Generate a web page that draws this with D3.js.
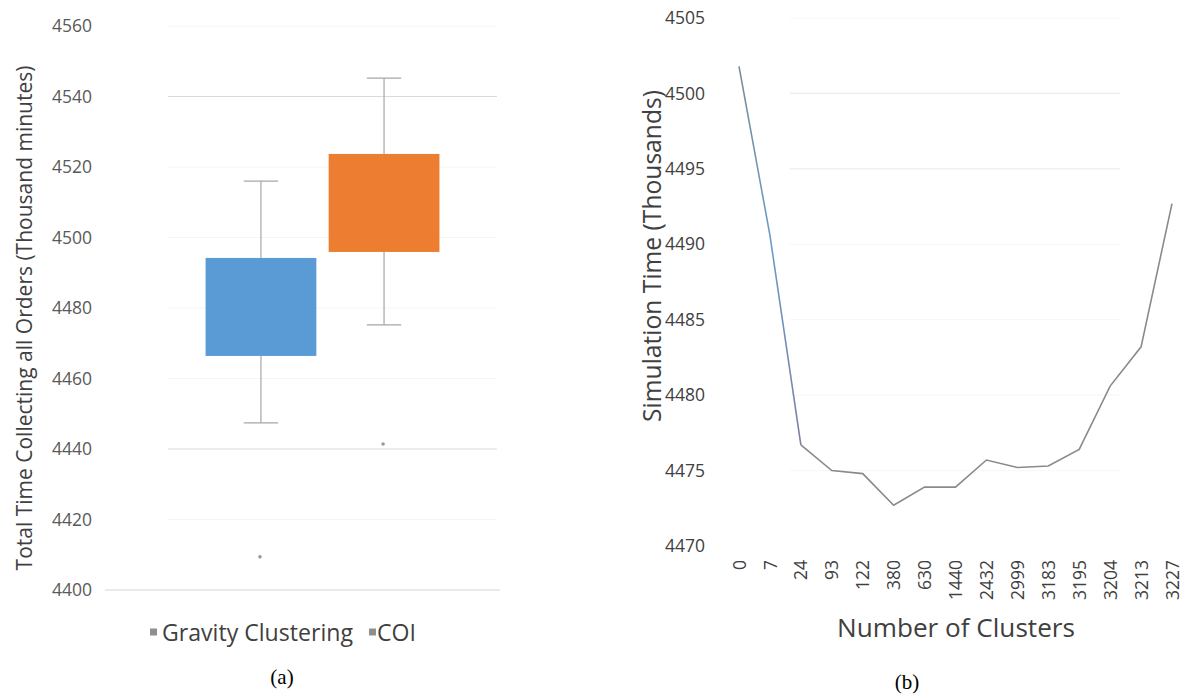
<!DOCTYPE html>
<html>
<head>
<meta charset="utf-8">
<script src="https://cdn.jsdelivr.net/npm/d3@7"></script>
<style>
  html, body { margin: 0; padding: 0; background: #fff; }
  svg { display: block; }
  text { font-family: "Open Sans", "DejaVu Sans", sans-serif; }
</style>
</head>
<body>
<svg id="chart" width="1186" height="696"></svg>
<script>
// ---------- Data: panel (a) box plot ----------
const boxSeries = ["Gravity Clustering", "COI"];
const boxMin = [4447.4, 4475.2];
const boxQ1 = [4466.4, 4495.9];
const boxQ3 = [4494.2, 4523.7];
const boxMax = [4516.0, 4545.2];
const boxOutliers = [[4409.4], [4441.4]];
const boxColors = ["#5b9bd5", "#ed7d31"];
const leftTicks = [4400, 4420, 4440, 4460, 4480, 4500, 4520, 4540, 4560];

// ---------- Data: panel (b) line chart ----------
const clusterLabels = ["0", "7", "24", "93", "122", "380", "630", "1440", "2432", "2999", "3183", "3195", "3204", "3213", "3227"];
const simTime = [4501.8, 4490.6, 4476.7, 4475.0, 4474.8, 4472.7, 4473.9, 4473.9, 4475.7, 4475.2, 4475.3, 4476.4, 4480.6, 4483.2, 4492.7];
const rightTicks = [4470, 4475, 4480, 4485, 4490, 4495, 4500, 4505];

const svg = d3.select("#chart");

function fitText(sel, target) {
  const node = sel.node();
  let fs = parseFloat(sel.attr("font-size"));
  for (let i = 0; i < 4; i++) {
    const len = node.getComputedTextLength();
    if (len > 0) fs = fs * target / len;
    sel.attr("font-size", fs.toFixed(2));
  }
}

// ================= Panel (a) =================
const yA = d3.scaleLinear().domain([4400, 4560]).range([590, 26]);
const plotA = { left: 105, right: 540 };

const gA = svg.append("g");

// gridlines
gA.append("g").selectAll("line").data(leftTicks.filter(d => d !== 4400)).join("line")
  .attr("x1", 168).attr("x2", 497)
  .attr("y1", d => yA(d)).attr("y2", d => yA(d))
  .attr("stroke", d => (d === 4540 || d === 4440) ? "#dadada" : "#f4f4f4")
  .attr("stroke-width", 1);

// axis baseline
gA.append("line")
  .attr("x1", plotA.left).attr("x2", 500)
  .attr("y1", yA(4400)).attr("y2", yA(4400))
  .attr("stroke", "#e3e3e3").attr("stroke-width", 1.5);

// y axis
const axA = gA.append("g").attr("transform", "translate(92,0)")
  .call(d3.axisLeft(yA).tickValues(leftTicks).tickSize(0).tickPadding(0).tickFormat(d3.format("d")));
axA.select(".domain").remove();
axA.selectAll("text").attr("font-size", 17.5).attr("fill", "#595959")
  .style("font-family", "'Open Sans', sans-serif");

// y title
const tA = gA.append("text")
  .attr("transform", "translate(24,318) rotate(-90)")
  .attr("text-anchor", "middle").attr("dominant-baseline", "central")
  .attr("font-size", 18).attr("fill", "#404040")
  .text("Total Time Collecting all Orders (Thousand minutes)");
fitText(tA, 505);

// box plot scales
const x0 = d3.scaleBand().domain([""]).range([plotA.left, plotA.right]).paddingOuter(0.43);
const x1 = d3.scaleBand().domain(boxSeries).range([0, x0.bandwidth()]).paddingInner(0.1);

const boxes = boxSeries.map((s, i) => ({
  s, i, min: boxMin[i], q1: boxQ1[i], q3: boxQ3[i], max: boxMax[i], out: boxOutliers[i], color: boxColors[i]
}));

const bg = gA.append("g").attr("transform", `translate(${x0("")},0)`);
const bw = x1.bandwidth();
const capW = bw * 0.31;
boxes.forEach(b => {
  const cx = x1(b.s) + bw / 2;
  const g = bg.append("g");
  // whiskers
  g.append("line").attr("x1", cx).attr("x2", cx).attr("y1", yA(b.max)).attr("y2", yA(b.q3))
    .attr("stroke", "#a6a6a6").attr("stroke-width", 1.2);
  g.append("line").attr("x1", cx).attr("x2", cx).attr("y1", yA(b.q1)).attr("y2", yA(b.min))
    .attr("stroke", "#a6a6a6").attr("stroke-width", 1.2);
  g.append("line").attr("x1", cx - capW / 2).attr("x2", cx + capW / 2).attr("y1", yA(b.max)).attr("y2", yA(b.max))
    .attr("stroke", "#a6a6a6").attr("stroke-width", 1.2);
  g.append("line").attr("x1", cx - capW / 2).attr("x2", cx + capW / 2).attr("y1", yA(b.min)).attr("y2", yA(b.min))
    .attr("stroke", "#a6a6a6").attr("stroke-width", 1.2);
  // box
  g.append("rect").attr("x", x1(b.s)).attr("width", bw)
    .attr("y", yA(b.q3)).attr("height", yA(b.q1) - yA(b.q3))
    .attr("fill", b.color);
  // outliers
  g.selectAll("circle").data(b.out).join("circle")
    .attr("cx", cx - 1).attr("cy", d => yA(d)).attr("r", 1.8).attr("fill", "#9a9a9a");
});

// legend
const legA = gA.append("g").attr("transform", "translate(0,632)");
const leg1 = legA.append("g");
leg1.append("rect").attr("x", 150).attr("y", -3.5).attr("width", 7).attr("height", 7).attr("fill", "#8f8f8f");
const lt1 = leg1.append("text").attr("x", 162).attr("y", 0).attr("dominant-baseline", "central")
  .attr("font-size", 19).attr("fill", "#404040").text(boxSeries[0]);
fitText(lt1, 191);
const leg2 = legA.append("g");
leg2.append("rect").attr("x", 369).attr("y", -3.5).attr("width", 7).attr("height", 7).attr("fill", "#8f8f8f");
leg2.append("text").attr("x", 377).attr("y", 0).attr("dominant-baseline", "central")
  .attr("font-size", lt1.attr("font-size")).attr("fill", "#404040").text(boxSeries[1]);

// caption (a)
svg.append("text").attr("x", 282).attr("y", 677).attr("text-anchor", "middle").attr("dominant-baseline", "central")
  .attr("font-size", 21).style("font-family", "'Liberation Serif', 'Times New Roman', serif")
  .attr("fill", "#000").text("(a)");

// ================= Panel (b) =================
const yB = d3.scaleLinear().domain([4470, 4505]).range([546, 18]);
const xB = d3.scalePoint().domain(clusterLabels).range([739, 1172]);

const gB = svg.append("g");

// gridlines (visible ones)
gB.append("g").selectAll("line").data(rightTicks.filter(d => d > 4470)).join("line")
  .attr("x1", 790).attr("x2", 1120)
  .attr("y1", d => yB(d)).attr("y2", d => yB(d))
  .attr("stroke", d => (d === 4500 || d === 4495) ? "#ececec" : "#f8f8f8")
  .attr("stroke-width", 1.2);

// y axis
const axB = gB.append("g").attr("transform", "translate(705,0)")
  .call(d3.axisLeft(yB).tickValues(rightTicks).tickSize(0).tickPadding(0).tickFormat(d3.format("d")));
axB.select(".domain").remove();
axB.selectAll("text").attr("font-size", 17.5).attr("fill", "#404040")
  .style("font-family", "'Open Sans', sans-serif");

// x axis (rotated labels)
const axX = gB.append("g").attr("transform", "translate(0,560)")
  .call(d3.axisBottom(xB).tickSize(0).tickPadding(0));
axX.select(".domain").remove();
axX.selectAll("text")
  .attr("font-size", 17.5).attr("fill", "#404040")
  .style("font-family", "'Open Sans', sans-serif")
  .attr("transform", "rotate(-90)")
  .attr("text-anchor", "end")
  .attr("x", 0).attr("y", 0).attr("dy", "0.35em");

// line
const line = d3.line().x((d, i) => xB(clusterLabels[i])).y(d => yB(d));
const grad = svg.append("defs").append("linearGradient").attr("id", "lg")
  .attr("gradientUnits", "userSpaceOnUse")
  .attr("x1", xB("0")).attr("x2", xB("24")).attr("y1", 0).attr("y2", 0);
grad.append("stop").attr("offset", "0%").attr("stop-color", "#7a8c96");
grad.append("stop").attr("offset", "50%").attr("stop-color", "#6a9cc8");
grad.append("stop").attr("offset", "100%").attr("stop-color", "#7d7fa8");
gB.append("path").datum(simTime.slice(0, 3))
  .attr("d", line).attr("fill", "none").attr("stroke", "url(#lg)").attr("stroke-width", 1.6);
gB.append("path").datum(simTime)
  .attr("d", (d) => line(d).replace(/^M[^L]*L[^L]*L/, "M"))
  .attr("fill", "none").attr("stroke", "#8a8a8a").attr("stroke-width", 1.6);

// y title
const tB = gB.append("text")
  .attr("transform", "translate(651,256) rotate(-90)")
  .attr("text-anchor", "middle").attr("dominant-baseline", "central")
  .attr("font-size", 18).attr("fill", "#404040")
  .text("Simulation Time (Thousands)");
fitText(tB, 332);

// x title
const xt = gB.append("text")
  .attr("x", 956).attr("y", 627)
  .attr("text-anchor", "middle").attr("dominant-baseline", "central")
  .attr("font-size", 22).attr("fill", "#404040")
  .text("Number of Clusters");
fitText(xt, 238);

// caption (b)
svg.append("text").attr("x", 907).attr("y", 682).attr("text-anchor", "middle").attr("dominant-baseline", "central")
  .attr("font-size", 21).style("font-family", "'Liberation Serif', 'Times New Roman', serif")
  .attr("fill", "#000").text("(b)");
</script>
</body>
</html>
